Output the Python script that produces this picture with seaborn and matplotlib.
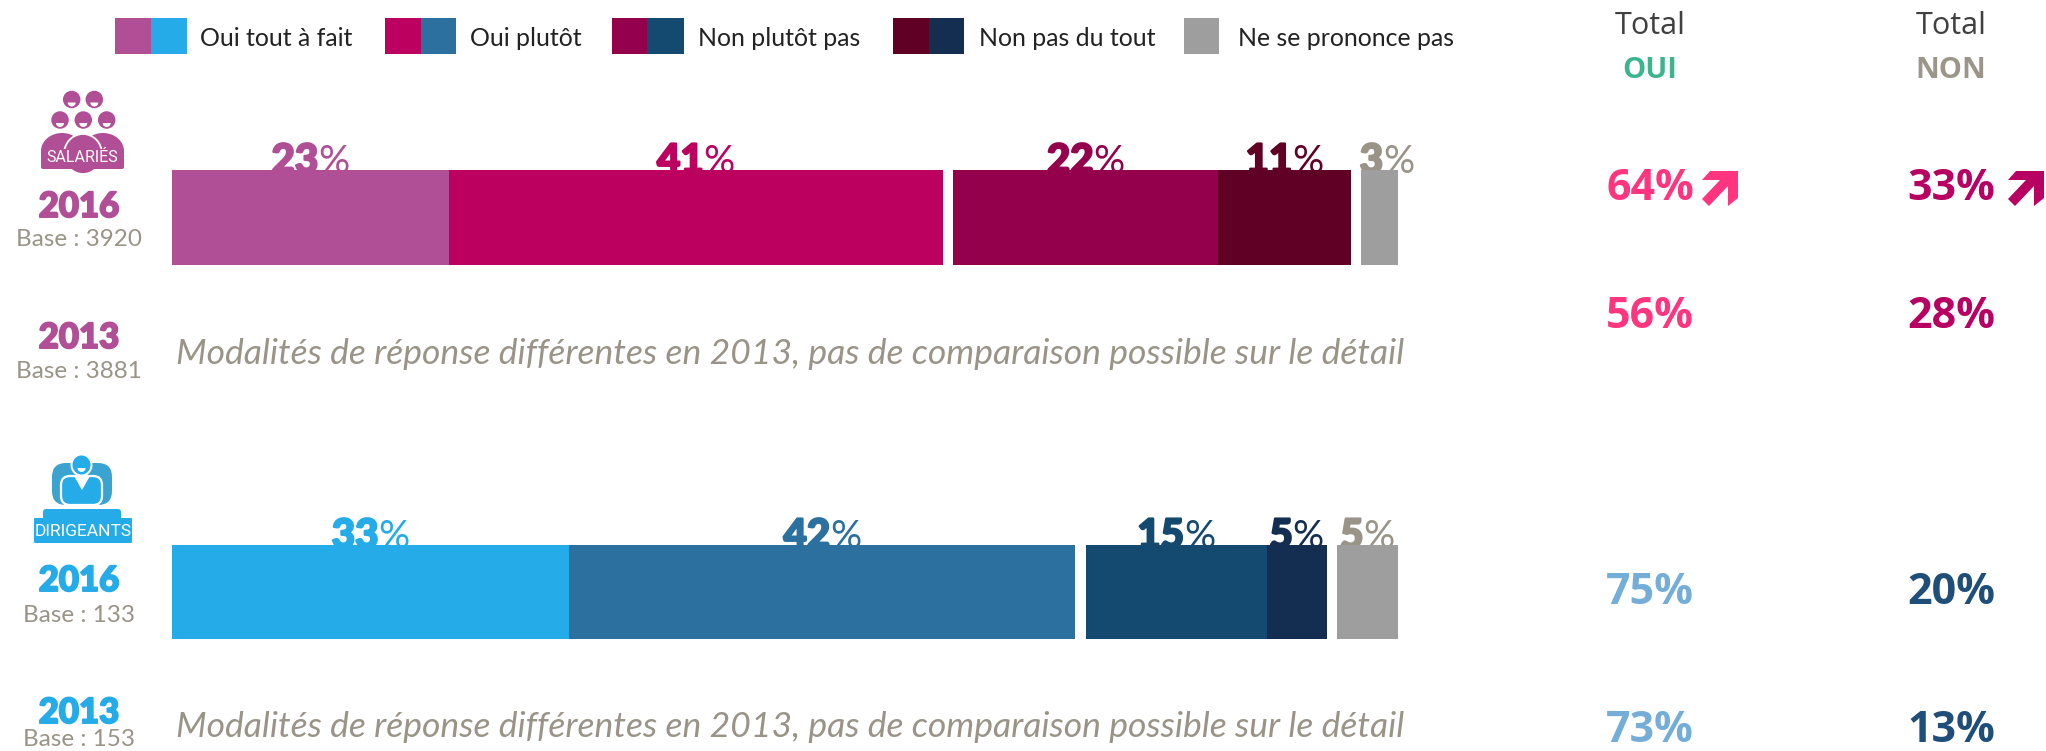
import matplotlib
matplotlib.use("Agg")
import matplotlib.pyplot as plt
import matplotlib.patheffects as pe
from matplotlib.patches import Rectangle, Polygon, Ellipse, FancyBboxPatch, Wedge
import seaborn as sns

sns.set_theme(style="white")

# ---- data
segments = ["Oui tout à fait", "Oui plutôt", "Non plutôt pas", "Non pas du tout", "Ne se prononce pas"]
salaries_2016 = [23, 41, 22, 11, 3]
dirigeants_2016 = [33, 42, 15, 5, 5]
salaries_colors = ["#B04E96", "#BC0060", "#94004B", "#600024", "#9E9E9E"]
dirigeants_colors = ["#25ACE8", "#2B709E", "#144A70", "#142E52", "#9E9E9E"]
salaries_label_colors = ["#B04E96", "#BC0060", "#94004B", "#600024", "#9A9488"]
dirigeants_label_colors = ["#25ACE8", "#2B709E", "#144A70", "#142E52", "#9A9488"]
group_gaps = [0, 0, 0.87, 0, 0.87]
total_oui = ["64%", "56%", "75%", "73%"]
total_non = ["33%", "28%", "20%", "13%"]
bases = ["Base : 3920", "Base : 3881", "Base : 133", "Base : 153"]
years = ["2016", "2013", "2016", "2013"]
note = "Modalités de réponse différentes en 2013, pas de comparaison possible sur le détail"

W, H = 2046, 751
fig = plt.figure(figsize=(W / 100, H / 100), dpi=100, facecolor="white")
SANS = "Lato"
CAL = "Open Sans"
GREY = "#9A9488"


def heavy(color, w=1.2):
    return [pe.withStroke(linewidth=w, foreground=color)]


def bar_axes(y0, y1):
    return fig.add_axes([172 / W, 1 - y1 / H, (1397.5 - 172) / W, (y1 - y0) / H], zorder=2)


def draw_stack(ax, values, colors, label_colors, name, nudges):
    renderer = fig.canvas.get_renderer()
    left = 0
    for val, gap, col, lab, nudge in zip(values, group_gaps, colors, label_colors, nudges):
        left += gap
        sns.barplot(x=[val], y=[name], left=left, color=col, width=1, saturation=1,
                    orient="h", ax=ax, linewidth=0, zorder=2)
        cx = left + val / 2
        a = ax.annotate(str(val), (cx, -0.5), xycoords="data", xytext=(0, 0), textcoords="offset points",
                        fontsize=29, fontweight="black", family=SANS, color=lab,
                        ha="left", va="baseline", zorder=1, annotation_clip=False,
                        path_effects=heavy(lab, 1.6))
        b = ax.annotate("%", (cx, -0.5), xycoords="data", xytext=(0, 0), textcoords="offset points",
                        fontsize=28, fontweight="normal", family=SANS, color=lab,
                        ha="left", va="baseline", zorder=1, annotation_clip=False)
        wa = a.get_window_extent(renderer).width * 0.72
        wb = b.get_window_extent(renderer).width * 0.72
        total = wa + wb
        a.xyann = (-total / 2 + nudge, -2)
        b.xyann = (-total / 2 + wa + nudge, -2)
        left += val
    ax.set_xlim(0, 100 + sum(group_gaps))
    ax.set_ylim(0.5, -0.5)
    ax.axis("off")


ax1 = bar_axes(170, 265)
draw_stack(ax1, salaries_2016, salaries_colors, salaries_label_colors, "Salariés 2016", [0, 0, 0, 0, 5.5])
ax2 = bar_axes(545, 639)
draw_stack(ax2, dirigeants_2016, dirigeants_colors, dirigeants_label_colors, "Dirigeants 2016", [0, 0, 0, 0, 0])

# ---- overlay in image pixels
ov = fig.add_axes([0, 0, 1, 1], zorder=1)
ov.set_xlim(0, W)
ov.set_ylim(H, 0)
ov.axis("off")

# legend
swatches = [(115, 151, 187), (385, 421, 456), (612, 647, 684), (893, 929, 964)]
label_x = [200, 470, 698, 979, 1238]
for i, (a, m, b) in enumerate(swatches):
    ov.add_patch(Rectangle((a, 18), m - a, 36, fc=salaries_colors[i], lw=0))
    ov.add_patch(Rectangle((m, 18), b - m, 36, fc=dirigeants_colors[i], lw=0))
ov.add_patch(Rectangle((1184, 18), 35, 36, fc="#9E9E9E", lw=0))
for x, s in zip(label_x, segments):
    ov.text(x, 39, s, fontsize=17.95, family=SANS, color="#222222", va="center", ha="left")

# left labels
PURPLE, BLUE = "#B04E96", "#25ACE8"
rows = [(207, 240), (338, 371), (581, 615), (713, 739)]
for i, (yy, yb) in enumerate(rows):
    c = PURPLE if i < 2 else BLUE
    ov.text(79, yy, years[i], fontsize=25, fontweight="black", family=SANS, color=c, ha="center", va="center",
            path_effects=heavy(c, 1.4))
    ov.text(79, yb, bases[i], fontsize=17.5, family=SANS, color=GREY, ha="center", va="center")

for y in (354, 727):
    ov.text(176, y, note, fontsize=25.55, style="italic", family=SANS, color=GREY, ha="left", va="center")

# totals
for x, s, c in ((1650, "OUI", "#3CB48C"), (1951, "NON", "#9C958A")):
    ov.text(x, 26, "Total", fontsize=22, family=CAL, color="#404040", ha="center", va="center")
    ov.text(x, 70, s, fontsize=21, fontweight="bold", family=CAL, color=c, ha="center", va="center")

ys = [188, 317, 592, 731]
oui_cols = ["#FF3580", "#FF3580", "#73ADD8", "#73ADD8"]
non_cols = ["#B80063", "#B80063", "#1F4E79", "#1F4E79"]
for y, a, b, ca, cb in zip(ys, total_oui, total_non, oui_cols, non_cols):
    ov.text(1650, y, a, fontsize=31, fontweight="bold", family=CAL, color=ca, ha="center", va="center")
    ov.text(1951, y, b, fontsize=31, fontweight="bold", family=CAL, color=cb, ha="center", va="center")

# arrows
arrow = [(1710, 171), (1738, 171), (1738, 198), (1728, 206), (1728, 186), (1709, 206), (1702, 199), (1720, 180), (1702, 180)]
for dx, c in ((0, "#FF3580"), (306, "#B80063")):
    ov.add_patch(Polygon([(x + dx, y) for x, y in arrow], closed=True, fc=c, lw=0))

# salariés icon
for cx, cy in ((71.7, 99.5), (94.3, 99.5), (60, 120), (83.3, 120), (106.7, 120)):
    ov.add_patch(Ellipse((cx, cy), 17.5, 17.5, fc=PURPLE, lw=0))
    ov.add_patch(Wedge((cx, cy + 3), 4, 0, 180, fc="white", lw=0))
ov.add_patch(Ellipse((62, 151), 42, 36, fc=PURPLE, lw=0))
ov.add_patch(Ellipse((103, 151), 42, 36, fc=PURPLE, lw=0))
ov.add_patch(Ellipse((83, 154), 38, 40, fc=PURPLE, ec="white", lw=1.3))
ov.add_patch(FancyBboxPatch((41, 149), 83, 20, boxstyle="round,pad=0,rounding_size=2", fc=PURPLE, lw=0))
ov.text(82.5, 158, "SALARIÉS", fontsize=11.5, family="Roboto", color="white", ha="center", va="center")

# dirigeants icon
ov.add_patch(FancyBboxPatch((52, 463), 60, 42, boxstyle="round,pad=0,rounding_size=14", fc="#3BA3D0", lw=0))
ov.add_patch(FancyBboxPatch((61, 476), 41, 29, boxstyle="round,pad=0,rounding_size=9", fc=BLUE, ec="white", lw=1.6))
ov.add_patch(Polygon([(74, 476), (90, 476), (82, 490)], closed=True, fc="white", lw=0))
ov.add_patch(Ellipse((81.5, 465), 20, 21, fc=BLUE, ec="white", lw=1.4))
ov.add_patch(Wedge((81.5, 468), 4, 0, 180, fc="white", lw=0))
ov.add_patch(FancyBboxPatch((43, 509), 78, 12, boxstyle="round,pad=0,rounding_size=3", fc=BLUE, lw=0))
ov.add_patch(FancyBboxPatch((34, 518), 98, 25, boxstyle="round,pad=0,rounding_size=1", fc=BLUE, lw=0))
ov.text(83, 531, "DIRIGEANTS", fontsize=12.5, family="Roboto", color="white", ha="center", va="center")

fig.savefig("out.png", dpi=100, facecolor="white")
